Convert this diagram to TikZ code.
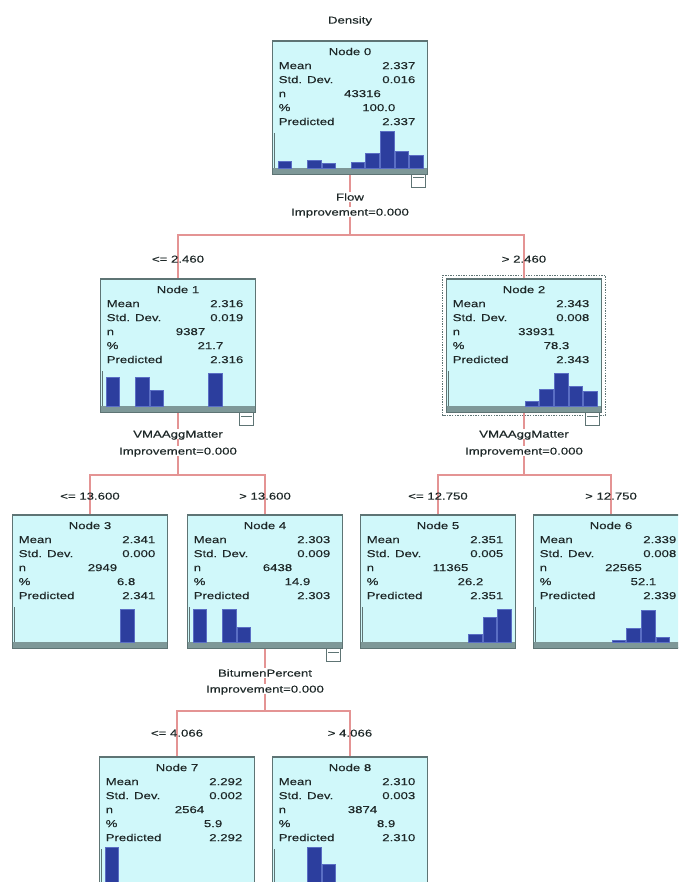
\documentclass[tikz,border=0pt]{standalone}
\usepackage{fontspec}
\setmainfont[FakeStretch=1.32,FakeBold=0.35]{Liberation Sans}
\usetikzlibrary{calc}
\definecolor{boxfill}{HTML}{D0F8FA}
\definecolor{boxline}{HTML}{5E7474}
\definecolor{axisband}{HTML}{7E9898}
\definecolor{barblue}{HTML}{2C3E9E}
\definecolor{baredge}{HTML}{5A6EC4}
\definecolor{connred}{HTML}{E49494}
\definecolor{txt}{HTML}{1E2828}
\tikzset{
 treebox/.style={rectangle, fill=boxfill, draw=boxline, line width=1.5pt, minimum width=155pt, minimum height=133pt, inner sep=0pt},
 tt/.style={font=\fontsize{10}{12}\selectfont, text=txt, inner sep=0pt, text height=7.2pt, text depth=0pt},
 lab/.style={tt, anchor=west},
 val/.style={tt, anchor=east},
 ctr/.style={tt},
 varlab/.style={tt, fill=white, inner sep=1.5pt},
 split/.style={tt},
 conn/.style={draw=connred, line width=1.3pt},
 iconbox/.style={rectangle, draw=boxline, fill=white, line width=1pt, minimum width=14pt, minimum height=13pt, inner sep=0pt},
 bar/.style={fill=barblue, draw=baredge, line width=0.6pt},
}
\newcommand{\tnode}[9]{%
 \node[treebox] (#1) at (#2,#3+66.5) {};
 \node[ctr] (#1-t) at (#2,#3+10.5) {#4};
 \node[lab] (#1-l1) at (#2-71.5,#3+24.5) {Mean};
 \node[val] (#1-v1) at (#2+65.5,#3+24.5) {#5};
 \node[lab] (#1-l2) at (#2-71.5,#3+38.5) {Std. Dev.};
 \node[val] (#1-v2) at (#2+65.5,#3+38.5) {#6};
 \node[lab] (#1-l3) at (#2-71.5,#3+52.5) {n};
 \node[ctr] (#1-v3) at (#2+12.5,#3+52.5) {#7};
 \node[lab] (#1-l4) at (#2-71.5,#3+66.5) {\%};
 \node[val] (#1-v4) at (#2+45.5,#3+66.5) {#8};
 \node[lab] (#1-l5) at (#2-71.5,#3+80.5) {Predicted};
 \node[val] (#1-v5) at (#2+65.5,#3+80.5) {#9};
 \fill[axisband] (#2-77,#3+127) rectangle (#2+77,#3+133);
 \draw[boxline, line width=1.5pt] (#2-75.5,#3+92) -- (#2-75.5,#3+127);
}
\newcommand{\tbars}[3]{%
 \foreach \b/\h in {#3} {
  \path[bar] (#1-72.5+14.6*\b+0.5,#2+127) rectangle (#1-72.5+14.6*\b+14.1,#2+127-\h);
 }%
}
\newcommand{\ticon}[3]{%
 \node[iconbox] (#1-ic) at (#2+68.5,#3+140) {};
 \draw[boxline, line width=1pt] (#2+63,#3+137) -- (#2+74,#3+137);
}
\begin{document}
\begin{tikzpicture}[x=1pt,y=-1pt]
\useasboundingbox (0,0) rectangle (678,882);
\clip (0,0) rectangle (678,882);
\fill[white] (0,0) rectangle (678,882);

\node[tt] (title) at (350,20) {Density};

% nodes
\tnode{n0}{350}{41}{Node 0}{2.337}{0.016}{43316}{100.0}{2.337}
\tbars{350}{41}{0/7,2/7.3,3/5,5/6,6/15,7/37,8/17,9/13}
\tnode{n1}{178}{279}{Node 1}{2.316}{0.019}{9387}{21.7}{2.316}
\tbars{178}{279}{0/29,2/29,3/16,7/33}
\tnode{n2}{524}{279}{Node 2}{2.343}{0.008}{33931}{78.3}{2.343}
\tbars{524}{279}{5/5,6/17,7/33,8/20,9/15}
\tnode{n3}{90}{515}{Node 3}{2.341}{0.000}{2949}{6.8}{2.341}
\tbars{90}{515}{7/33}
\tnode{n4}{265}{515}{Node 4}{2.303}{0.009}{6438}{14.9}{2.303}
\tbars{265}{515}{0/33,2/33,3/15}
\tnode{n5}{438}{515}{Node 5}{2.351}{0.005}{11365}{26.2}{2.351}
\tbars{438}{515}{7/8,8/25,9/33}
\tnode{n6}{611}{515}{Node 6}{2.339}{0.008}{22565}{52.1}{2.339}
\tbars{611}{515}{5/2,6/14,7/32,8/5}
\tnode{n7}{177}{757}{Node 7}{2.292}{0.002}{2564}{5.9}{2.292}
\tbars{177}{757}{0/37}
\tnode{n8}{350}{757}{Node 8}{2.310}{0.003}{3874}{8.9}{2.310}
\tbars{350}{757}{2/37,3/20}

% selection outline of node 2
\draw[boxline, line width=1.3pt, dash pattern=on 1.3pt off 1.3pt]
  ($(n2.south west)+(-3,3)$) rectangle ($(n2.north east)+(3,-3)$);

% expand icons
\ticon{n0}{350}{41}
\ticon{n1}{178}{279}
\ticon{n2}{524}{279}
\ticon{n4}{265}{515}

% connectors
\coordinate (s0) at (350,235);
\coordinate (s1) at (178,475);
\coordinate (s2) at (524,475);
\coordinate (s3) at (265,711);
\draw[conn] (n0.south) -- (s0);
\draw[conn] (s0) -| (n1.north);
\draw[conn] (s0) -| (n2.north);
\draw[conn] (n1.south) -- (s1);
\draw[conn] (s1) -| (n3.north);
\draw[conn] (s1) -| (n4.north);
\draw[conn] (n2.south) -- (s2);
\draw[conn] (s2) -| (n5.north);
\draw[conn] (s2) -| (n6.north);
\draw[conn] (n4.south) -- (s3);
\draw[conn] (s3) -| (n7.north);
\draw[conn] (s3) -| (n8.north);

% split variable labels
\node[varlab] (v0a) at (350,197) {Flow};
\node[varlab] (v0b) at (350,212) {Improvement=0.000};
\node[varlab] (v1a) at (178,434) {VMAAggMatter};
\node[varlab] (v1b) at (178,451) {Improvement=0.000};
\node[varlab] (v2a) at (524,434) {VMAAggMatter};
\node[varlab] (v2b) at (524,451) {Improvement=0.000};
\node[varlab] (v3a) at (265,673) {BitumenPercent};
\node[varlab] (v3b) at (265,689) {Improvement=0.000};

% split values
\node[split] (c1) at (178,259) {<= 2.460};
\node[split] (c2) at (524,259) {> 2.460};
\node[split] (c3) at (90,496) {<= 13.600};
\node[split] (c4) at (265,496) {> 13.600};
\node[split] (c5) at (438,496) {<= 12.750};
\node[split] (c6) at (611,496) {> 12.750};
\node[split] (c7) at (177,733) {<= 4.066};
\node[split] (c8) at (350,733) {> 4.066};
\end{tikzpicture}
\end{document}
